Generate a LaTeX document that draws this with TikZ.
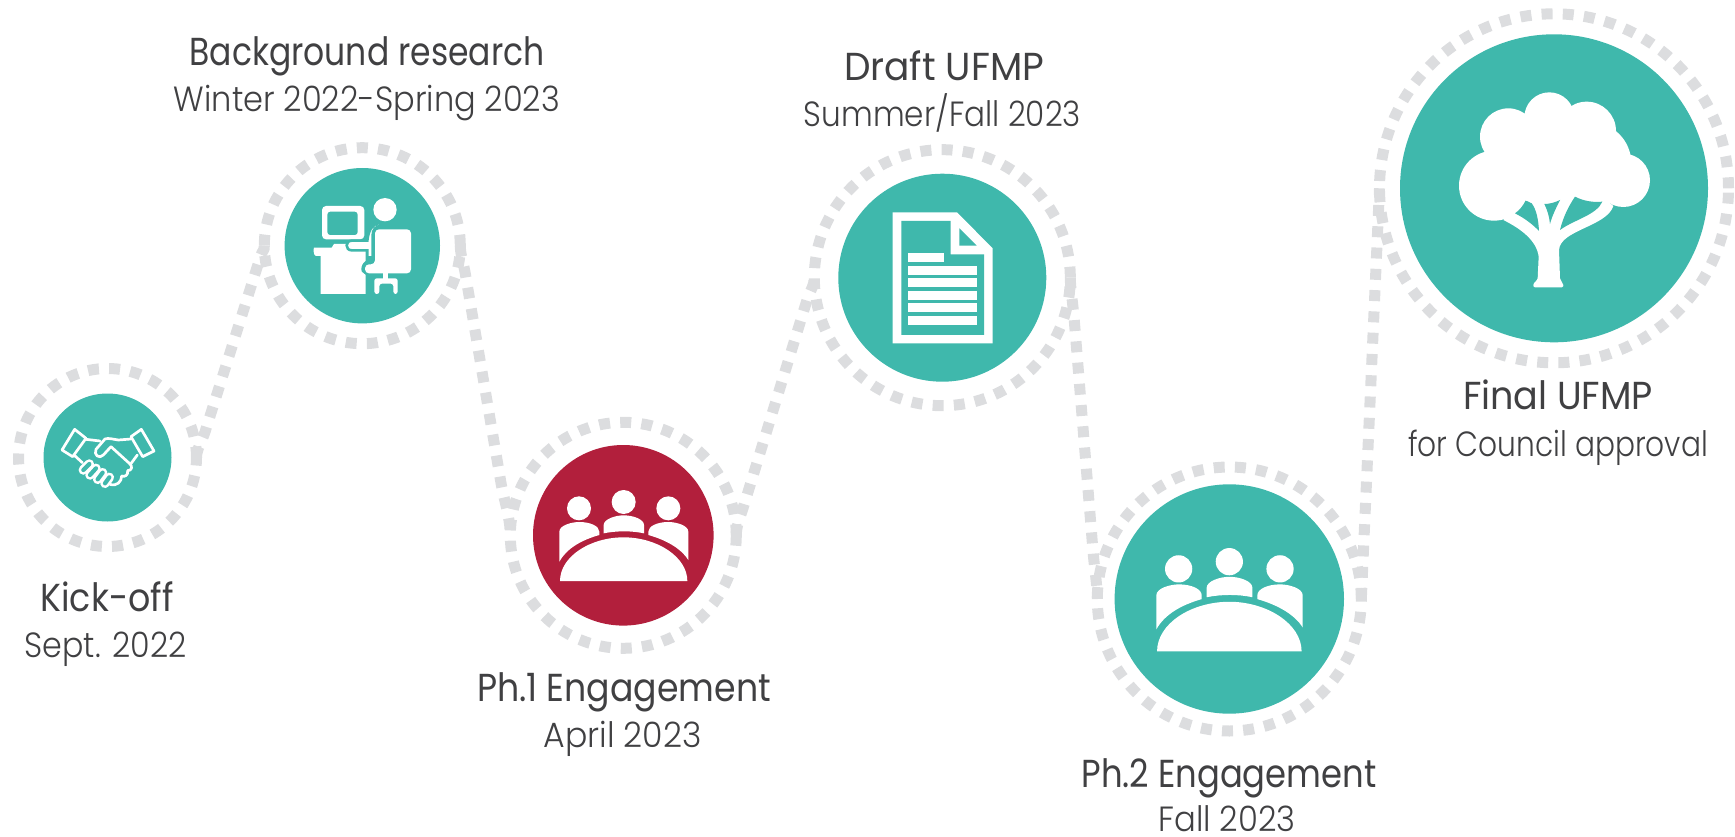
\documentclass[tikz,border=0pt]{standalone}
\usepackage{graphicx}
\usepackage{fontspec}
\setmainfont{Poppins}
\newfontfamily\headfont[FakeStretch=0.84]{Poppins}
\newfontfamily\subfont[FakeStretch=0.86,UprightFont=* Light]{Poppins}
\definecolor{tealc}{HTML}{3FB8AC}
\definecolor{redc}{HTML}{B21F3C}
\definecolor{ringc}{HTML}{DCDDDF}
\definecolor{textc}{HTML}{404042}
\tikzset{
  ringnode/.style={circle,draw=ringc,line width=11pt,dash pattern=on 11pt off 10.2pt,inner sep=0pt,outer sep=0pt,minimum size=#1},
  disc/.style={circle,inner sep=0pt,outer sep=0pt,minimum size=#1},
  conn/.style={draw=ringc,line width=11pt,dash pattern=on 11pt off 10.3pt},
  head/.style={anchor=base,inner sep=0pt,text=textc,font=\headfont\fontsize{39}{39}\selectfont},
  sub/.style={anchor=base,inner sep=0pt,text=textc,font=\subfont\fontsize{35}{35}\selectfont},
}
\newcommand{\fitw}[2]{\resizebox{#1pt}{\height}{#2}}
\newcommand{\meetingicon}[1]{%
  \fill[white] (237,325) circle[radius=36];
  \fill[white] (371,306) circle[radius=36];
  \fill[white] (505,325) circle[radius=36];
  \fill[white] (178,485) -- (178,395) .. controls (178,376) and (215,366) .. (238,366) .. controls (270,366) and (298,378) .. (298,395) -- (298,405) .. controls (245,420) and (200,445) .. (178,485) -- cycle;
  \fill[white] (565,480) -- (565,395) .. controls (565,376) and (528,366) .. (505,366) .. controls (473,366) and (445,378) .. (445,395) -- (445,405) .. controls (498,420) and (543,445) .. (565,480) -- cycle;
  \fill[white] (311,400) -- (311,375) .. controls (311,358) and (345,346) .. (371,346) .. controls (400,346) and (432,358) .. (432,375) -- (432,400) .. controls (395,392) and (350,392) .. (311,400) -- cycle;
  \fill[white] (180,543) -- (562,543) .. controls (562,470) and (470,412) .. (371,412) .. controls (270,412) and (180,470) .. (180,543) -- cycle;
}
\begin{document}
\begin{tikzpicture}[x=1pt,y=-1pt]
\useasboundingbox (0,0) rectangle (1735,837);
% rings
\node[ringnode=178pt] (r1) at (107.5,457.5) {};
\node[ringnode=196pt] (r2) at (362.3,245.7) {};
\node[ringnode=226pt] (r3) at (623.3,535.3) {};
\node[ringnode=256pt] (r4) at (942.3,277.7) {};
\node[ringnode=264pt] (r5) at (1229.3,599) {};
\node[ringnode=349pt] (r6) at (1554,188.3) {};
% connectors
\coordinate (c1a) at (205,432);
\coordinate (c1b) at (260,258);
\coordinate (c2a) at (465,272);
\coordinate (c2b) at (501,483);
\coordinate (c3a) at (744,505);
\coordinate (c3b) at (807,300);
\coordinate (c4a) at (1074,317);
\coordinate (c4b) at (1093,551);
\draw[conn] (r1.east) .. controls +(0,-8) and (202,441) .. (c1a) -- (c1b) .. controls (263,248) and (264.3,252) .. (r2.west);
\draw[conn] (r2.east) .. controls +(0,8) and (463,262) .. (c2a) -- (c2b) .. controls (504,500) and (510.3,518) .. (r3.west);
\draw[conn] (r3.east) .. controls +(0,-10) and (740,518) .. (c3a) -- (c3b) .. controls (811,289) and (814.3,285) .. (r4.west);
\draw[conn] (r4.east) .. controls +(0,10) and (1073,305) .. (c4a) -- (c4b) .. controls (1094,565) and (1097.3,585) .. (r5.west);
\draw[conn] (r5.east) -- (r6.west);
% discs
\node[disc=128pt,fill=tealc] (d1) at (107.5,457.5) {};
\node[disc=155.4pt,fill=tealc] (d2) at (362.3,245.7) {};
\node[disc=180.6pt,fill=redc] (d3) at (623.3,535.3) {};
\node[disc=208pt,fill=tealc] (d4) at (942.3,277.7) {};
\node[disc=229.4pt,fill=tealc] (d5) at (1229.3,599) {};
\node[disc=308pt,fill=tealc] (d6) at (1554,188.3) {};
% handshake
\begin{scope}[shift={(0,340)},scale=0.33333,white,line width=2.7pt,line join=round,line cap=round]
  \draw (224,268) -- (258,295) -- (218,350) -- (186,330) -- cycle;
  \draw (424,268) -- (462,333) -- (428,350) -- (393,290) -- cycle;
  \draw (258,298) -- (300,303);
  \draw (393,297) -- (355,300) .. controls (340,298) and (325,293) .. (315,297) -- (288,328) .. controls (280,345) and (298,358) .. (310,345) -- (333,320) -- (388,370) .. controls (400,380) and (395,392) .. (383,392) .. controls (385,405) and (375,412) .. (365,408) .. controls (365,425) and (350,440) .. (330,433);
  \draw (412,345) -- (392,372);
  \draw (222,345) -- (247,368);
  \foreach \a/\b/\c/\d in {250/390/268/372, 270/405/288/385, 293/418/308/398, 315/430/328/412}{
    \draw[line width=9.5pt] (\a,\b) -- (\c,\d);
    \draw[tealc,line width=4.2pt] (\a,\b) -- (\c,\d);
  }
\end{scope}
% computer
\begin{scope}[shift={(250,140)},scale=0.33333]
  \fill[white] (192,323) -- (245,323) -- (252,312) -- (300,312) -- (347,330) -- (347,362) .. controls (335,370) and (332,385) .. (335,395) -- (347,405) -- (347,462) -- (212,462) -- (212,348) -- (198,348) .. controls (190,348) and (190,325) .. (192,323) -- cycle;
  \fill[white,rounded corners=4pt] (216,198) rectangle (343,298);
  \fill[tealc,rounded corners=3pt] (232,215) rectangle (323,285);
  \fill[white] (405,209) circle[radius=35];
  \filldraw[fill=white,draw=tealc,line width=2.6pt] (450,256) .. controls (440,250) and (415,250) .. (385,250) .. controls (368,252) and (355,270) .. (352,302) -- (305,302) .. controls (285,302) and (285,331) .. (305,331) -- (352,331) -- (352,352) -- (368,352) -- (368,285) .. controls (368,270) and (378,258) .. (392,258) -- (450,256) -- cycle;
  \fill[white,rounded corners=4pt] (375,373) -- (375,268) -- (483,268) -- (483,400) -- (345,400) -- (345,373) -- cycle;
  \fill[white] (400,400) rectangle (415,416);
  \fill[white,rounded corners=2.5pt] (373,462) -- (373,415) -- (443,415) -- (443,462) -- (430,462) -- (430,431) -- (388,431) -- (388,462) -- cycle;
\end{scope}
% meeting 1
\begin{scope}[shift={(500,400)},scale=0.33333]
  \meetingicon{}
\end{scope}
% meeting 2
\begin{scope}[shift={(1088.97,445.9)},scale=0.37833]
  \meetingicon{}
\end{scope}
% document
\begin{scope}[shift={(810,140)},scale=0.33333]
  \fill[white] (248,217) -- (441,217) -- (548,325) -- (548,610) -- (248,610) -- cycle;
  \fill[tealc] (274,243) -- (422,243) -- (422,343) -- (522,343) -- (522,585) -- (274,585) -- cycle;
  \fill[tealc] (448,265) -- (500,317) -- (448,317) -- cycle;
  \fill[white] (295,340) rectangle (401,366);
  \foreach \yy in {378,415,453,490,528} \fill[white] (295,\yy) rectangle (500,\yy+26);
\end{scope}
% tree
\begin{scope}[shift={(1360,0)},scale=0.33333]
  \fill[white] (402,557) circle[radius=105];
  \fill[white] (445,410) circle[radius=85];
  \fill[white] (568,352) circle[radius=75];
  \fill[white] (680,393) circle[radius=88];
  \fill[white] (790,541) circle[radius=80];
  \fill[white] (690,490) circle[radius=124];
  \fill[white] (540,480) circle[radius=130];
  \fill[white] (430,660) .. controls (480,685) and (530,720) .. (536,770) -- (533,835) .. controls (532,842) and (520,848) .. (520,855) .. controls (520,860) and (522,862) .. (525,862) -- (605,862) .. controls (610,862) and (610,858) .. (610,855) .. controls (610,848) and (600,842) .. (600,835) -- (597,750) .. controls (600,690) and (740,680) .. (760,618) -- (727,590) -- (600,580) -- (465,620) -- cycle;
  \fill[tealc] (465,640) .. controls (480,630) and (490,615) .. (497,602) -- (515,610) .. controls (530,630) and (535,660) .. (537,693) .. controls (520,675) and (495,655) .. (465,640) -- cycle;
  \fill[tealc] (553,612) .. controls (570,612) and (585,607) .. (600,600) .. controls (590,620) and (575,650) .. (570,672) .. controls (568,650) and (562,630) .. (553,612) -- cycle;
  \fill[tealc] (645,590) .. controls (670,603) and (700,608) .. (727,605) .. controls (710,645) and (640,660) .. (600,690) .. controls (610,650) and (625,620) .. (645,590) -- cycle;
\end{scope}
% labels
\node[head] (t1) at (107,611) {\fitw{133}{Kick-off}};
\node[sub] (s1) at (105.5,657) {\fitw{162}{Sept. 2022}};
\node[head] (t2) at (367,66) {\fitw{355}{Background research}};
\node[sub] (s2) at (367,112) {\fitw{386}{Winter 2022-Spring 2023}};
\node[head] (t3) at (624,701) {\fitw{294}{Ph.1 Engagement}};
\node[sub] (s3) at (622.5,747) {\fitw{158}{April 2023}};
\node[head] (t4) at (944,81) {\fitw{200}{Draft UFMP}};
\node[sub] (s4) at (942.5,127) {\fitw{277}{Summer/Fall 2023}};
\node[head] (t5) at (1229,787) {\fitw{295}{Ph.2 Engagement}};
\node[sub] (s5) at (1227,831) {\fitw{137}{Fall 2023}};
\node[head] (t6) at (1558,409) {\fitw{190}{Final UFMP}};
\node[sub] (s6) at (1558,456) {\fitw{300}{for Council approval}};
\end{tikzpicture}
\end{document}
